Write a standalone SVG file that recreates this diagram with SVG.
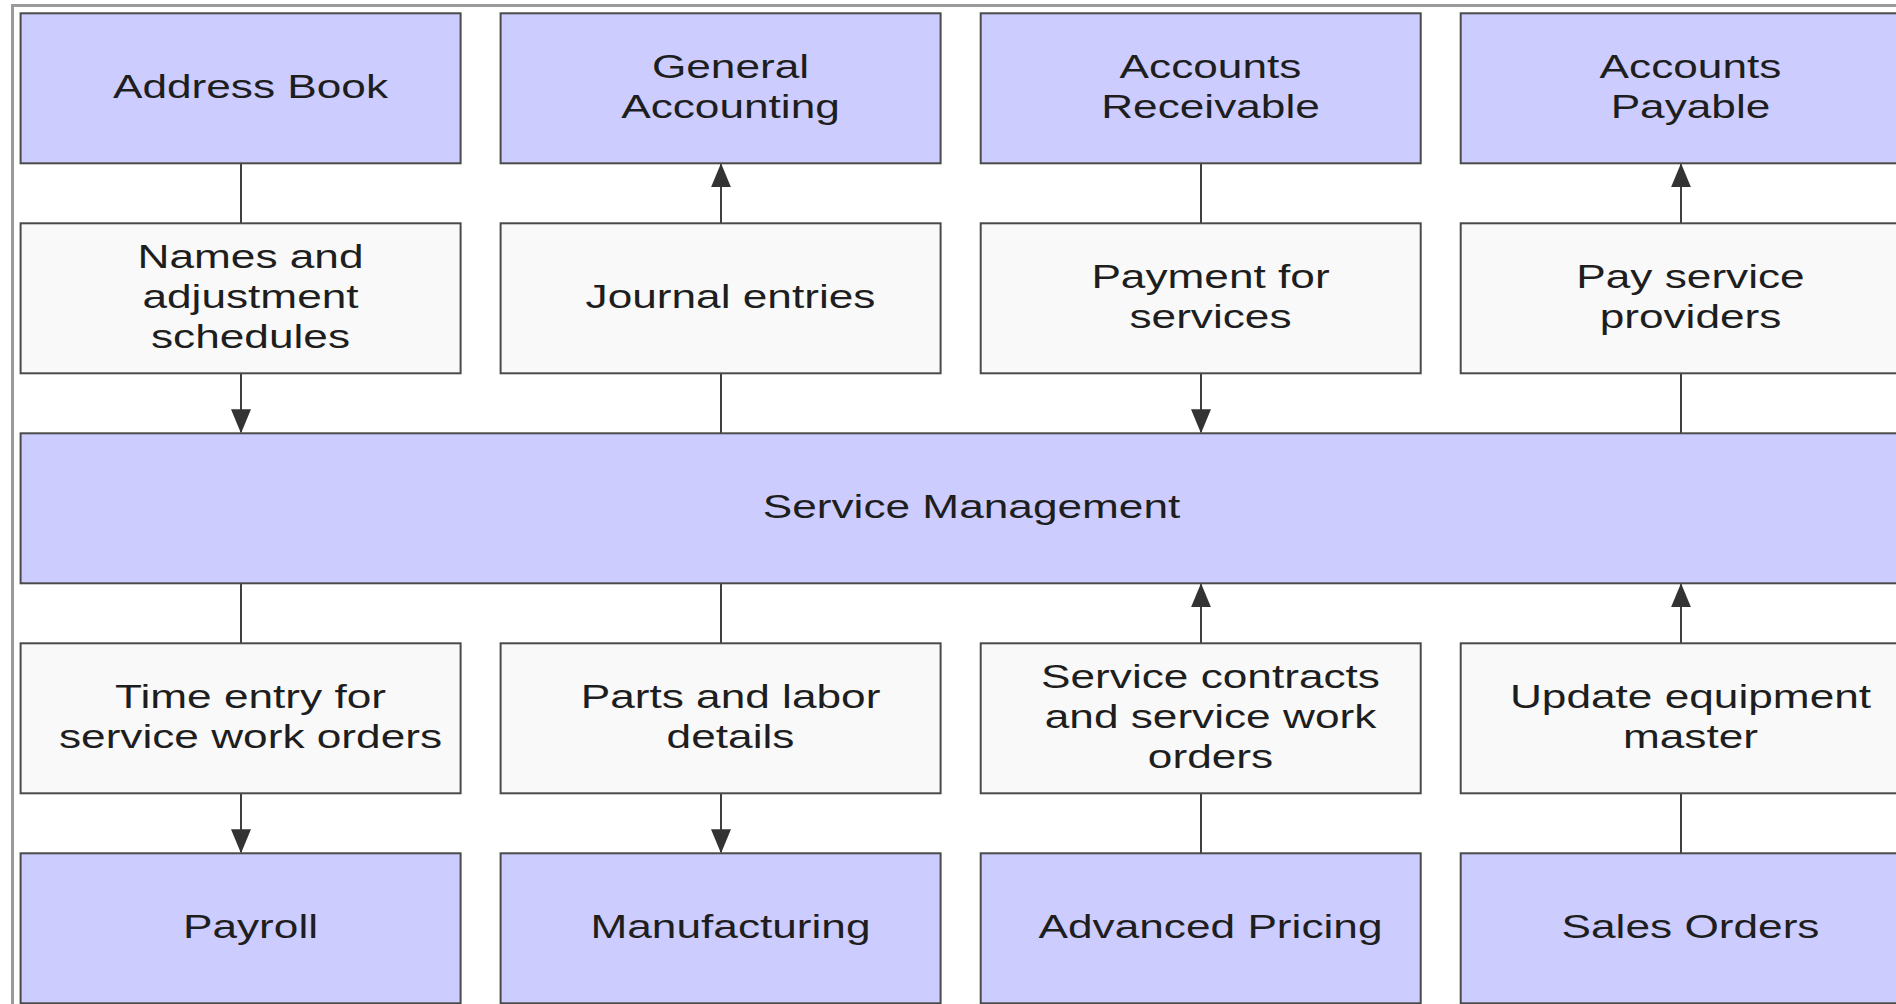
<svg xmlns="http://www.w3.org/2000/svg" width="1896" height="1004" viewBox="0 0 1896 1004">
<style>
.bg{fill:#ffffff}
.frame{fill:none;stroke:#9a9a9a;stroke-width:3}
.mod{fill:#ccccff;stroke:#4a4a4a;stroke-width:2}
.flow{fill:#f9f9f9;stroke:#4a4a4a;stroke-width:2}
.t{font-family:"Liberation Sans",Arial,sans-serif;font-size:34px;fill:#1e1e1e;text-anchor:middle}
.c{stroke:#404040;stroke-width:2;fill:none}
.a{stroke:#404040;stroke-width:2;fill:none;marker-end:url(#ah)}
</style>
<defs>
<marker id="ah" markerUnits="userSpaceOnUse" markerWidth="24" markerHeight="20" refX="23" refY="10" orient="auto" viewBox="0 0 24 20">
<path d="M0,0 L24,10 L0,20 Z" fill="#333333"/>
</marker>
</defs>
<rect class="bg" x="0" y="0" width="1896" height="1004"/>
<rect class="frame" x="12.5" y="5.5" width="1900" height="1010"/>

<g id="connectors">
<line class="c" x1="241" y1="163.3" x2="241" y2="223.3"/>
<line class="a" x1="241" y1="373.3" x2="241" y2="432.3"/>
<line class="a" x1="721" y1="223.3" x2="721" y2="164.3"/>
<line class="c" x1="721" y1="373.3" x2="721" y2="433.3"/>
<line class="c" x1="1201" y1="163.3" x2="1201" y2="223.3"/>
<line class="a" x1="1201" y1="373.3" x2="1201" y2="432.3"/>
<line class="a" x1="1681" y1="223.3" x2="1681" y2="164.3"/>
<line class="c" x1="1681" y1="373.3" x2="1681" y2="433.3"/>
<line class="c" x1="241" y1="583.3" x2="241" y2="643.3"/>
<line class="a" x1="241" y1="793.3" x2="241" y2="852.3"/>
<line class="c" x1="721" y1="583.3" x2="721" y2="643.3"/>
<line class="a" x1="721" y1="793.3" x2="721" y2="852.3"/>
<line class="a" x1="1201" y1="643.3" x2="1201" y2="584.3"/>
<line class="c" x1="1201" y1="793.3" x2="1201" y2="853.3"/>
<line class="a" x1="1681" y1="643.3" x2="1681" y2="584.3"/>
<line class="c" x1="1681" y1="793.3" x2="1681" y2="853.3"/>
</g>

<g id="address-book">
<rect class="mod" x="20.6" y="13.3" width="440" height="150"/>
<text class="t" transform="translate(250.5,98.3) scale(1.3,1)">Address Book</text>
</g>
<g id="general-accounting">
<rect class="mod" x="500.6" y="13.3" width="440" height="150"/>
<text class="t" transform="translate(730.5,78.3) scale(1.3,1)">General</text>
<text class="t" transform="translate(730.5,118.3) scale(1.3,1)">Accounting</text>
</g>
<g id="accounts-receivable">
<rect class="mod" x="980.7" y="13.3" width="440" height="150"/>
<text class="t" transform="translate(1210.5,78.3) scale(1.3,1)">Accounts</text>
<text class="t" transform="translate(1210.5,118.3) scale(1.3,1)">Receivable</text>
</g>
<g id="accounts-payable">
<rect class="mod" x="1460.7" y="13.3" width="440" height="150"/>
<text class="t" transform="translate(1690.5,78.3) scale(1.3,1)">Accounts</text>
<text class="t" transform="translate(1690.5,118.3) scale(1.3,1)">Payable</text>
</g>

<g id="names-adjustment">
<rect class="flow" x="20.6" y="223.3" width="440" height="150"/>
<text class="t" transform="translate(250.5,268.3) scale(1.3,1)">Names and</text>
<text class="t" transform="translate(250.5,308.3) scale(1.3,1)">adjustment</text>
<text class="t" transform="translate(250.5,348.3) scale(1.3,1)">schedules</text>
</g>
<g id="journal-entries">
<rect class="flow" x="500.6" y="223.3" width="440" height="150"/>
<text class="t" transform="translate(730.5,308.3) scale(1.3,1)">Journal entries</text>
</g>
<g id="payment-services">
<rect class="flow" x="980.7" y="223.3" width="440" height="150"/>
<text class="t" transform="translate(1210.5,288.3) scale(1.3,1)">Payment for</text>
<text class="t" transform="translate(1210.5,328.3) scale(1.3,1)">services</text>
</g>
<g id="pay-providers">
<rect class="flow" x="1460.7" y="223.3" width="440" height="150"/>
<text class="t" transform="translate(1690.5,288.3) scale(1.3,1)">Pay service</text>
<text class="t" transform="translate(1690.5,328.3) scale(1.3,1)">providers</text>
</g>

<g id="service-management">
<rect class="mod" x="20.6" y="433.3" width="1880" height="150"/>
<text class="t" transform="translate(971.5,518.3) scale(1.3,1)">Service Management</text>
</g>

<g id="time-entry">
<rect class="flow" x="20.6" y="643.3" width="440" height="150"/>
<text class="t" transform="translate(250.5,708.3) scale(1.3,1)">Time entry for</text>
<text class="t" transform="translate(250.5,748.3) scale(1.3,1)">service work orders</text>
</g>
<g id="parts-labor">
<rect class="flow" x="500.6" y="643.3" width="440" height="150"/>
<text class="t" transform="translate(730.5,708.3) scale(1.3,1)">Parts and labor</text>
<text class="t" transform="translate(730.5,748.3) scale(1.3,1)">details</text>
</g>
<g id="service-contracts">
<rect class="flow" x="980.7" y="643.3" width="440" height="150"/>
<text class="t" transform="translate(1210.5,688.3) scale(1.3,1)">Service contracts</text>
<text class="t" transform="translate(1210.5,728.3) scale(1.3,1)">and service work</text>
<text class="t" transform="translate(1210.5,768.3) scale(1.3,1)">orders</text>
</g>
<g id="update-equipment">
<rect class="flow" x="1460.7" y="643.3" width="440" height="150"/>
<text class="t" transform="translate(1690.5,708.3) scale(1.3,1)">Update equipment</text>
<text class="t" transform="translate(1690.5,748.3) scale(1.3,1)">master</text>
</g>

<g id="payroll">
<rect class="mod" x="20.6" y="853.3" width="440" height="150"/>
<text class="t" transform="translate(250.5,938.3) scale(1.3,1)">Payroll</text>
</g>
<g id="manufacturing">
<rect class="mod" x="500.6" y="853.3" width="440" height="150"/>
<text class="t" transform="translate(730.5,938.3) scale(1.3,1)">Manufacturing</text>
</g>
<g id="advanced-pricing">
<rect class="mod" x="980.7" y="853.3" width="440" height="150"/>
<text class="t" transform="translate(1210.5,938.3) scale(1.3,1)">Advanced Pricing</text>
</g>
<g id="sales-orders">
<rect class="mod" x="1460.7" y="853.3" width="440" height="150"/>
<text class="t" transform="translate(1690.5,938.3) scale(1.3,1)">Sales Orders</text>
</g>
</svg>
